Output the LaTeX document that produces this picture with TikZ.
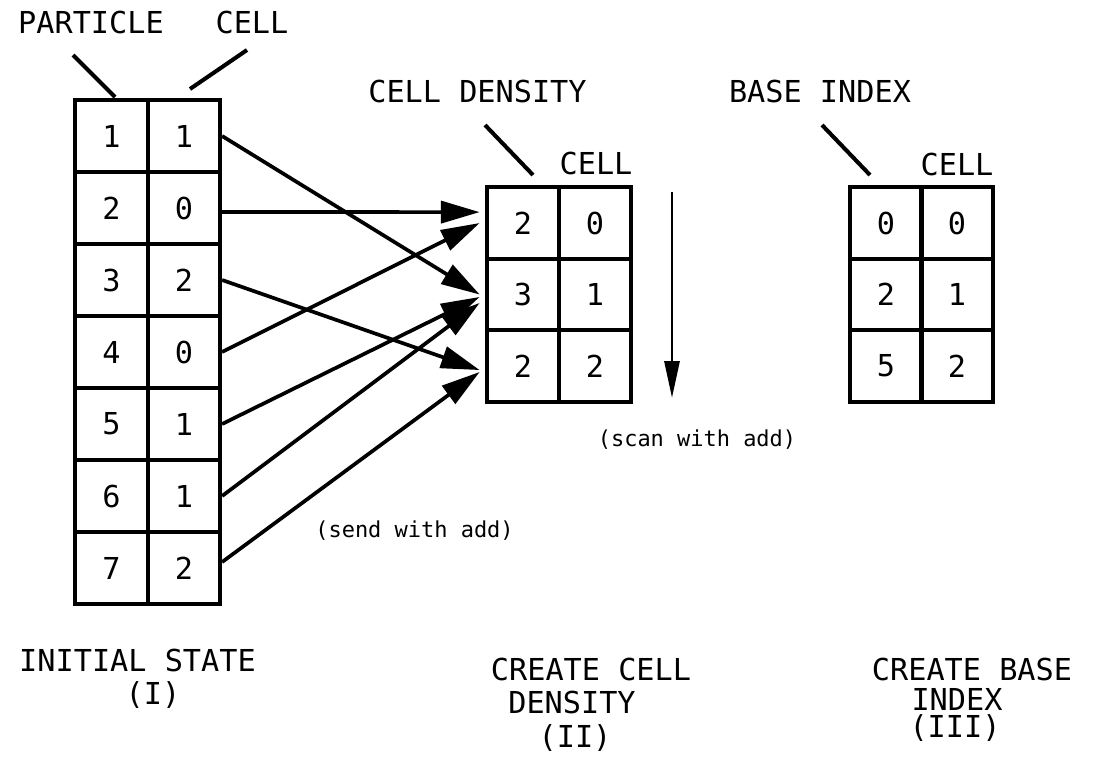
\documentclass[tikz,border=0pt]{standalone}
\usepackage{fontspec}
\setmainfont{DejaVu Sans Mono}
\usetikzlibrary{calc,positioning,arrows.meta}

\begin{document}
\begin{tikzpicture}[x=0.02cm, y=-0.02cm,
  font=\fontsize{17.2}{20}\selectfont,
  cellbox/.style={draw, line width=2.1pt, minimum width=1.45cm, minimum height=1.43cm, inner sep=0pt},
  lbl/.style={inner sep=0pt},
  small/.style={inner sep=0pt, font=\fontsize{12.5}{15}\selectfont},
  lead/.style={line width=2.3pt},
  flow/.style={line width=2.1pt, -{Triangle[length=22pt, width=12.5pt]}},
  >={Triangle[length=21pt, width=8.5pt]}]
\useasboundingbox (0,0) rectangle (1093,762);
% initial state table
\foreach \p/\c [count=\i] in {1/1,2/0,3/2,4/0,5/1,6/1,7/2} {
  \node[cellbox] (p\i) at (111.5, 64+72*\i) {\p};
  \node[cellbox] (c\i) at (184, 64+72*\i) {\c};
}
% cell density table
\foreach \n/\c [count=\i] in {2/0,3/1,2/2} {
  \node[cellbox] (d\i) at (523, 151.5+71.5*\i) {\n};
  \node[cellbox] (dc\i) at (595, 151.5+71.5*\i) {\c};
}
% base index table
\foreach \n/\c [count=\i] in {0/0,2/1,5/2} {
  \node[cellbox] (b\i) at (886, 151.5+71.5*\i) {\n};
  \node[cellbox] (bc\i) at (957, 151.5+71.5*\i) {\c};
}
% headings
\node[lbl] (ptlab) at (91,22) {PARTICLE};
\node[lbl] (celllab) at (252,22) {CELL};
\node[lbl, anchor=east] (cdlab) at (587,91) {CELL DENSITY};
\node[lbl] (bilab) at (820,91) {BASE INDEX};
\node[lbl] (dcell) at (596,163) {CELL};
\node[lbl] (bcell) at (957,164) {CELL};
\coordinate (pt0) at (73,55);   \coordinate (pt1) at (115,97);
\coordinate (ce0) at (247,50);  \coordinate (ce1) at (190,89);
\coordinate (cd0) at (485,125); \coordinate (cd1) at (533,175);
\coordinate (bi0) at (822,125); \coordinate (bi1) at (870,175);
\draw[lead] (pt0) -- (pt1);
\draw[lead] (ce0) -- (ce1);
\draw[lead] (cd0) -- (cd1);
\draw[lead] (bi0) -- (bi1);
% send with add
\draw[flow] (c1.east) -- ([xshift=-3pt]d2.west);
\draw[flow] ([yshift=-2.3pt]c2.east) -- ([xshift=-3pt,yshift=6.2pt]d1.west);
\draw[flow] (c3.east) -- ([xshift=-3pt,yshift=-2.3pt]d3.west);
\draw[flow] (c4.east) -- ([xshift=-3pt]d1.west);
\draw[flow] (c5.east) -- ([xshift=-3pt,yshift=-1.4pt]d2.west);
\draw[flow] (c6.east) -- ([xshift=-3pt,yshift=-4.8pt]d2.west);
\draw[flow] ([yshift=3.4pt]c7.east) -- ([xshift=-3pt,yshift=-3.4pt]d3.west);
\node[small, anchor=west] (send) at (315,531) {(send with add)};
% scan with add
\coordinate (scantop) at (672,192);
\coordinate (scanbot) at (672,398);
\draw[->, line width=1.7pt] (scantop) -- (scanbot);
\node[small] (scan) at (697,440) {(scan with add)};
% captions
\node[lbl] (cap1) at (137.5,660) {INITIAL STATE};
\node[lbl] (cap1n) at (153,695) {(I)};
\node[lbl] (cap2) at (591,669) {CREATE CELL};
\node[lbl] (cap2b) at (572,702) {DENSITY};
\node[lbl] (cap2n) at (575,738) {(II)};
\node[lbl] (cap3) at (972,669) {CREATE BASE};
\node[lbl] (cap3b) at (957,699) {INDEX};
\node[lbl] (cap3n) at (955,728) {(III)};
\end{tikzpicture}
\end{document}
